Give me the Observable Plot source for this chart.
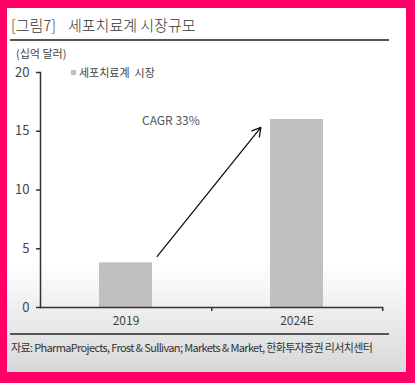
<!DOCTYPE html>
<html>
<head>
<meta charset="utf-8">
<script src="https://cdn.jsdelivr.net/npm/d3@7"></script>
<script src="https://cdn.jsdelivr.net/npm/@observablehq/plot@0.6"></script>
<style>
  html, body { margin: 0; padding: 0; }
  body { width: 415px; height: 383px; background: #fe0066; position: relative; overflow: hidden;
         font-family: "Noto Sans CJK KR", "Noto Sans", sans-serif; color: #333; }
  #panel { position: absolute; left: 7px; top: 8px; width: 399px; height: 364px;
           background: linear-gradient(to bottom, #ffffff 0%, #ffffff 70%, #d8d8d8 100%); }
  .abs { position: absolute; white-space: nowrap; }
  #fig { left: 4px; top: 6px; font-size: 15px; font-weight: 300; color: #333; }
  #title { left: 61px; top: 6px; font-size: 15px; font-weight: 300; color: #333; }
  .rule { position: absolute; left: 3px; width: 379px; height: 2px; background: #555; }
  #unit { left: 9px; top: 37px; font-size: 11px; color: #444; }
  #legend { left: 64px; top: 56px; font-size: 11px; color: #444; }
  #legend .sw { display: inline-block; width: 5px; height: 5px; background: #bfbfbf; margin-right: 3px; vertical-align: 2px; }
  #chart { position: absolute; left: -7px; top: 37px; width: 415px; }
  #chart svg { max-width: none !important; }
  #caption { left: 4px; top: 331px; font-size: 11px; color: #333; letter-spacing: -0.65px; }
</style>
</head>
<body>
<div id="panel">
  <div class="abs" id="fig">[그림7]</div>
  <div class="abs" id="title">세포치료계 시장규모</div>
  <div class="rule" style="top:31px"></div>
  <div class="abs" id="unit">(십억 달러)</div>
  <div class="abs" id="legend"><span class="sw"></span>세포치료계&nbsp; 시장</div>
  <div id="chart"></div>
  <div class="rule" style="top:325px"></div>
  <div class="abs" id="caption">자료: PharmaProjects, Frost &amp; Sullivan; Markets &amp; Market, 한화투자증권 리서치센터</div>
</div>
<script>
// Data
const categories = ["2019", "2024E"];
const values = [3.8, 16];
const yTicks = [0, 5, 10, 15, 20];
const cagrLabel = "CAGR 33%";
// Annotation arrow (from just right of 2019 bar to just left of 2024E bar)
const arrowFrom = {x: "2019", y: 1.04};
const arrowTo = {x: "2024E", y: 19.15};
const labelPos = {x: "2019", y: 15.9};

const data = categories.map((c, i) => ({cat: c, value: values[i]}));

const width = 415, marginLeft = 40, marginRight = 32;
const step = (width - marginLeft - marginRight) / categories.length;

const chart = Plot.plot({
  width: 415,
  height: 292,
  marginLeft,
  marginRight,
  marginTop: 27,
  marginBottom: 30,
  style: {background: "transparent", maxWidth: "none", fontFamily: "'Noto Sans CJK KR', sans-serif", fontSize: "12px", color: "#444"},
  x: {domain: categories, paddingInner: 0.69, paddingOuter: 0.345, axis: null},
  y: {domain: [0, 20], axis: null},
  marks: [
    Plot.barY(data, {x: "cat", y: "value", fill: "#c0c0c0"}),
    // y axis
    Plot.axisY({ticks: yTicks, tickSize: 4, tickPadding: 7, stroke: "#333", strokeWidth: 1.5, fill: "#444", fontSize: 13, label: null}),
    Plot.frame({anchor: "left", stroke: "#333", strokeWidth: 1.5}),
    // x axis
    Plot.ruleY([0], {stroke: "#333", strokeWidth: 1.5}),
    Plot.axisX({tickSize: 4, dx: step / 2, tickFormat: () => "", stroke: "#333", strokeWidth: 1.5, label: null}),
    Plot.axisX({tickSize: 0, tickPadding: 9, fill: "#444", fontSize: 12, label: null}),
    // annotation
    Plot.arrow([{x1: arrowFrom.x, y1: arrowFrom.y, x2: arrowTo.x, y2: arrowTo.y}], {
      x1: "x1", y1: "y1", x2: "x2", y2: "y2",
      insetStart: 49.8, insetEnd: 57.7, headLength: 11, stroke: "#111", strokeWidth: 1.3
    }),
    Plot.text([labelPos], {x: "x", y: "y", text: () => cagrLabel, textAnchor: "start", dx: 16, fill: "#555", fontSize: 12})
  ]
});
document.getElementById("chart").appendChild(chart);
</script>
</body>
</html>
